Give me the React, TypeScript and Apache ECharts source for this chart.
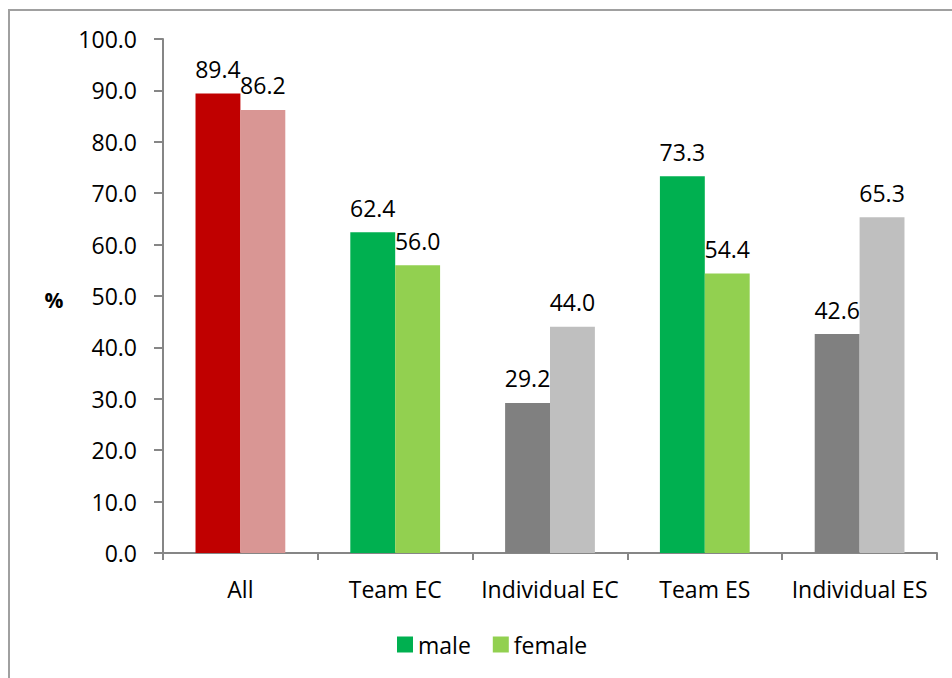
import React, { useEffect, useRef } from "react";
import * as echarts from "echarts";

const categories = ["All", "Team EC", "Individual EC", "Team ES", "Individual ES"];
const maleValues = [89.4, 62.4, 29.2, 73.3, 42.6];
const femaleValues = [86.2, 56.0, 44.0, 54.4, 65.3];
const maleColors = ["#C00000", "#00B050", "#808080", "#00B050", "#808080"];
const femaleColors = ["#D99694", "#92D050", "#BFBFBF", "#92D050", "#BFBFBF"];

const FONT = "Open Sans";
const FS = 23;

export default function App() {
  const ref = useRef<HTMLDivElement>(null);
  useEffect(() => {
    if (!ref.current) return;
    const chart = echarts.init(ref.current, null, { renderer: "svg" });
    const label = {
      show: true,
      position: "top" as const,
      distance: 13,
      color: "#000",
      fontFamily: FONT,
      fontSize: FS,
      formatter: (p: any) => Number(p.value).toFixed(1),
    };
    chart.setOption({
      animation: false,
      backgroundColor: "#fff",
      textStyle: { fontFamily: FONT },
      graphic: [
        {
          type: "rect",
          shape: { x: 9, y: 10, width: 1000, height: 800 },
          style: { fill: "none", stroke: "#A0A0A0", lineWidth: 2 },
          z: 100,
        },
        {
          type: "text",
          x: 54,
          y: 300,
          style: {
            text: "%",
            font: `bold 21px ${FONT}`,
            fill: "#000",
            align: "center",
            verticalAlign: "middle",
          },
        },
      ],
      grid: { left: 163, right: 15, top: 39, bottom: 125 },
      legend: {
        left: 392,
        top: 628,
        itemWidth: 16,
        itemHeight: 16,
        itemGap: 22,
        icon: "rect",
        textStyle: { fontFamily: FONT, fontSize: FS, color: "#000" },
        data: ["male", "female"],
      },
      xAxis: {
        type: "category",
        data: categories,
        axisLine: { lineStyle: { color: "#868686", width: 2 } },
        axisTick: { show: true, length: 7, lineStyle: { color: "#868686", width: 2 } },
        axisLabel: { color: "#000", fontFamily: FONT, fontSize: FS, margin: 24, interval: 0 },
      },
      yAxis: {
        type: "value",
        min: 0,
        max: 100,
        interval: 10,
        splitLine: { show: false },
        axisLine: { show: true, lineStyle: { color: "#868686", width: 2 } },
        axisTick: { show: true, length: 9, lineStyle: { color: "#868686", width: 2 } },
        axisLabel: {
          color: "#000",
          fontFamily: FONT,
          fontSize: FS,
          margin: 26,
          formatter: (v: number) => v.toFixed(1),
        },
      },
      series: [
        {
          name: "male",
          type: "bar",
          barGap: "0%",
          barCategoryGap: "42%",
          itemStyle: { color: "#00B050" },
          label,
          labelLayout: { hideOverlap: false },
          data: maleValues.map((v, i) => ({ value: v, itemStyle: { color: maleColors[i] } })),
        },
        {
          name: "female",
          type: "bar",
          itemStyle: { color: "#92D050" },
          label,
          labelLayout: { hideOverlap: false },
          data: femaleValues.map((v, i) => ({ value: v, itemStyle: { color: femaleColors[i] } })),
        },
      ],
    });
    return () => chart.dispose();
  }, []);
  return (
    <div
      ref={ref}
      style={{ position: "absolute", left: 0, top: 0, width: 952, height: 678 }}
    />
  );
}
